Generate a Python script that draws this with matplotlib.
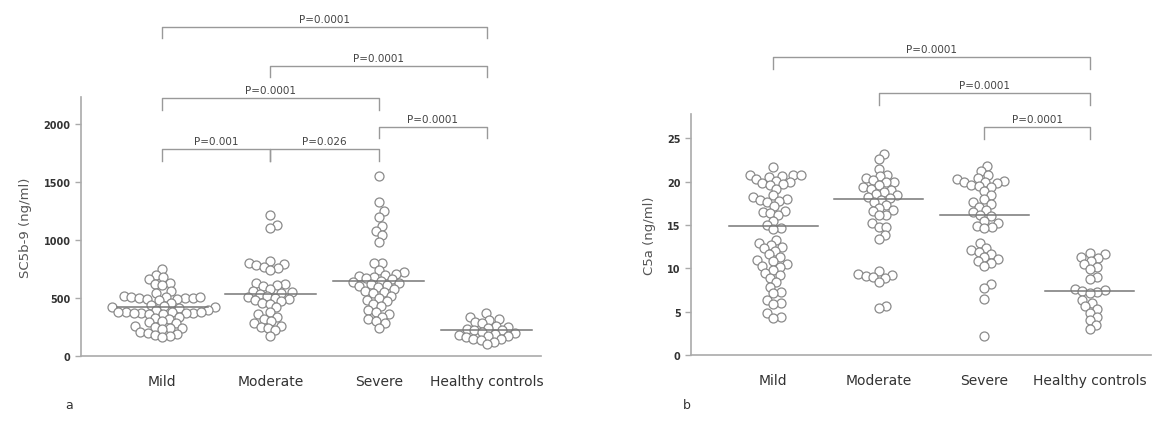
import numpy as np
import matplotlib.pyplot as plt

# === Daten ===
groups = ['Mild', 'Moderate', 'Severe', 'Healthy controls']

sc5b9_mild = [750, 700, 680, 660, 630, 620, 615, 560, 540, 520, 510, 505, 500, 500, 495, 490,
              500, 505, 480, 460, 440, 430, 420, 420, 410, 400, 395, 380, 375, 370, 370, 365,
              370, 375, 360, 370, 380, 340, 330, 320, 300, 290, 280, 260, 250, 240, 240, 230,
              210, 200, 190, 180, 170, 160]
sc5b9_moderate = [1210, 1130, 1100, 820, 800, 790, 780, 770, 760, 740, 630, 620, 610, 600, 580,
                  560, 550, 540, 530, 520, 510, 500, 490, 480, 470, 460, 450, 420, 380, 360, 340,
                  320, 300, 280, 260, 250, 240, 220, 170]
sc5b9_severe = [1550, 1330, 1250, 1200, 1120, 1080, 1040, 980, 800, 800, 740, 720, 710, 700, 690,
                680, 670, 660, 650, 640, 630, 620, 610, 600, 590, 580, 560, 550, 540, 520, 500,
                480, 470, 450, 430, 400, 380, 360, 340, 320, 300, 280, 240]
sc5b9_hc = [370, 340, 320, 310, 290, 280, 260, 250, 240, 230, 220, 220, 210, 200, 190, 180, 170,
            170, 160, 150, 150, 140, 120, 100]
sc5b9_median = [420, 530, 650, 220]

c5a_mild = [21.7, 20.8, 20.8, 20.8, 20.6, 20.5, 20.3, 20.1, 20.0, 19.8, 19.7, 19.6, 19.2, 18.4,
            18.2, 18.0, 17.9, 17.8, 17.7, 17.2, 16.6, 16.5, 16.4, 16.2, 15.5, 15.0, 14.6, 14.5,
            13.3, 12.9, 12.7, 12.5, 12.3, 12.0, 11.6, 11.3, 11.0, 10.9, 10.5, 10.3, 10.2, 9.8,
            9.5, 9.2, 8.9, 8.4, 7.9, 7.3, 7.1, 6.3, 6.0, 5.9, 4.8, 4.4, 4.3]
c5a_moderate = [23.2, 22.6, 21.5, 20.8, 20.6, 20.4, 20.2, 20.0, 19.9, 19.6, 19.4, 19.2, 19.0,
                18.8, 18.6, 18.4, 18.2, 18.1, 17.9, 17.6, 17.3, 17.0, 16.7, 16.6, 16.2, 16.1,
                15.2, 14.8, 14.8, 13.9, 13.4, 9.7, 9.3, 9.2, 9.1, 9.0, 8.9, 8.4, 5.6, 5.4]
c5a_severe = [21.8, 21.2, 20.8, 20.4, 20.3, 20.1, 20.0, 19.9, 19.8, 19.6, 19.5, 19.4, 18.9, 18.4,
              18.0, 17.6, 17.4, 17.1, 16.7, 16.5, 16.2, 16.0, 15.5, 15.2, 14.9, 14.8, 14.6, 12.9,
              12.3, 12.1, 11.9, 11.6, 11.3, 11.1, 10.8, 10.6, 10.3, 8.2, 7.7, 6.5, 2.2]
c5a_hc = [11.8, 11.6, 11.3, 11.2, 10.9, 10.5, 10.2, 9.9, 9.0, 8.8, 7.6, 7.5, 7.4, 7.3, 7.2, 6.4,
          6.0, 5.6, 5.3, 4.9, 4.4, 4.0, 3.5, 3.0]
c5a_median = [14.9, 18.0, 16.1, 7.4]

# Vergleiche: (Gruppe i, Gruppe j, Hoehe, Text)
sc5b9_pairs = [(0, 1, 1780, 'P=0.001'), (1, 2, 1780, 'P=0.026'), (0, 2, 2220, 'P=0.0001'),
               (2, 3, 1975, 'P=0.0001'), (1, 3, 2500, 'P=0.0001'), (0, 3, 2835, 'P=0.0001')]
c5a_pairs = [(2, 3, 26.3, 'P=0.0001'), (1, 3, 30.2, 'P=0.0001'), (0, 3, 34.4, 'P=0.0001')]

W, H = 1156, 435
DPI = 100
GRAY = '#8a8a8a'
TXT = '#444444'
D_PX = 9.0     # Kreisdurchmesser in px
D_SWARM = 7.6  # Abstand beim Anordnen (Kreise ueberlappen leicht)


def swarm_offsets(y_px, d):
    """Einfacher Beeswarm: x-Versatz in px fuer jeden Punkt."""
    order = np.argsort(y_px)
    placed = []
    xs = np.zeros(len(y_px))
    for i in order:
        y = y_px[i]
        cands = [0.0]
        for (px, py) in placed:
            dy = abs(py - y)
            if dy < d:
                dx = np.sqrt(d * d - dy * dy)
                cands += [px + dx + 0.01, px - dx - 0.01]
        cands.sort(key=abs)
        for c in cands:
            ok = all((c - px) ** 2 + (y - py) ** 2 >= d * d - 0.01 for (px, py) in placed)
            if ok:
                xs[i] = c
                placed.append((c, y))
                break
    return xs


def draw_panel(ax, xl, data, medians, pairs, ylim, yticks, ylabel, tick_h):
    ax.set_xlim(*xl)
    ax.set_ylim(*ylim)
    xpx_per_unit = ax.transData.transform((1, 0))[0] - ax.transData.transform((0, 0))[0]
    ypx_per_unit = ax.transData.transform((0, 1))[1] - ax.transData.transform((0, 0))[1]
    for k, vals in enumerate(data):
        vals = np.array(vals, dtype=float)
        offs = swarm_offsets(vals * ypx_per_unit, D_SWARM)
        ax.scatter(k + offs / xpx_per_unit, vals, s=(D_PX * 72 / DPI) ** 2, facecolor='white',
                   edgecolor=GRAY, linewidth=0.9, zorder=3, clip_on=False)
        ax.plot([k - 0.42, k + 0.42], [medians[k], medians[k]], color='#777777', lw=1.1, zorder=4)
    for (i, j, h, txt) in pairs:
        ax.plot([i, i, j, j], [h - tick_h, h, h, h - tick_h], color='#999999', lw=1.0,
                clip_on=False)
        ax.text((i + j) / 2, h + tick_h * 0.25, txt, ha='center', va='bottom', fontsize=7.5,
                color=TXT, clip_on=False)
    for s in ['top', 'right']:
        ax.spines[s].set_visible(False)
    for s in ['left', 'bottom']:
        ax.spines[s].set_color('#aaaaaa')
        ax.spines[s].set_linewidth(1.2)
    ax.set_yticks(yticks)
    ax.tick_params(axis='y', length=4, width=1, color='#aaaaaa', labelsize=7, labelcolor='#333333')
    for lab in ax.get_yticklabels():
        lab.set_fontweight('bold')
    ax.set_xticks(range(len(groups)))
    ax.set_xticklabels(groups, fontsize=10, color='#333333')
    ax.tick_params(axis='x', length=0, pad=13)
    ax.set_ylabel(ylabel, fontsize=9.5, color='#555555', labelpad=8)


fig = plt.figure(figsize=(W / DPI, H / DPI), dpi=DPI)

ax1 = fig.add_axes([81 / W, 78 / H, 460 / W, 259 / H])
draw_panel(ax1, (-0.75, 3.5), [sc5b9_mild, sc5b9_moderate, sc5b9_severe, sc5b9_hc], sc5b9_median,
           sc5b9_pairs, (0, 2230), [0, 500, 1000, 1500, 2000], 'SC5b-9 (ng/ml)', 100)

ax2 = fig.add_axes([691 / W, 79 / H, 460 / W, 241 / H])
draw_panel(ax2, (-0.78, 3.58), [c5a_mild, c5a_moderate, c5a_severe, c5a_hc], c5a_median,
           c5a_pairs, (0, 27.8), [0, 5, 10, 15, 20, 25], 'C5a (ng/ml)', 1.4)

fig.text(65 / W, 1 - 406 / H, 'a', fontsize=9, color='#333333', va='center')
fig.text(683 / W, 1 - 406 / H, 'b', fontsize=9, color='#333333', va='center')

fig.savefig('out.png', dpi=DPI)
